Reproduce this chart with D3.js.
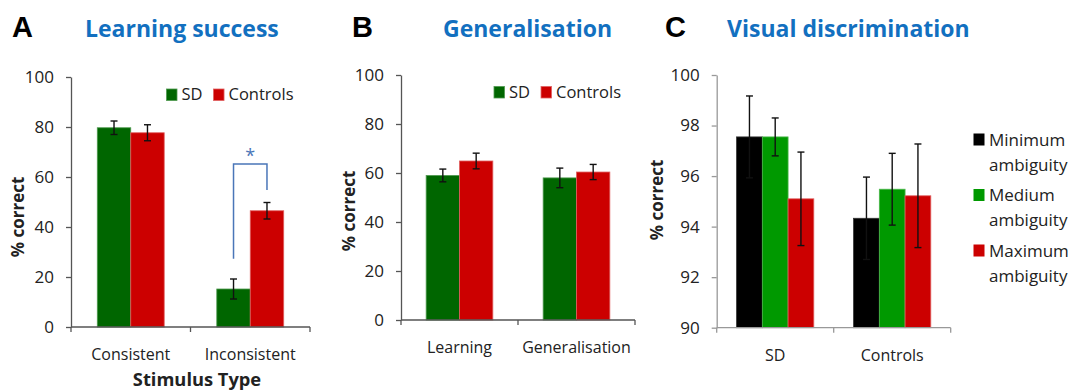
<!DOCTYPE html>
<html>
<head>
<meta charset="utf-8">
<script src="https://cdn.jsdelivr.net/npm/d3@7"></script>
<style>
	body { margin: 0; background: #fff; }
	svg { display: block; font-family: "Open Sans", Lato, sans-serif; }
	.tick text { fill: #222; }
</style>
</head>
<body>
<div id="chart"></div>
<script>
// panel A - learning success
var learnCats = ["Consistent", "Inconsistent"];
var learnSD = [79.7, 15.2];
var learnSDErr = [2.7, 4.0];
var learnCtrl = [77.7, 46.5];
var learnCtrlErr = [3.2, 3.3];

// panel B - generalisation
var genCats = ["Learning", "Generalisation"];
var genSD = [59.0, 58.0];
var genSDErr = [2.6, 4.0];
var genCtrl = [64.9, 60.4];
var genCtrlErr = [3.2, 3.1];

// panel C - visual discrimination
var visCats = ["SD", "Controls"];
var visMin = [97.55, 94.33];
var visMinErr = [1.62, 1.63];
var visMed = [97.55, 95.48];
var visMedErr = [0.75, 1.42];
var visMax = [95.1, 95.22];
var visMaxErr = [1.85, 2.05];

var ticks100 = [0, 20, 40, 60, 80, 100];
var ticks90 = [90, 92, 94, 96, 98, 100];

var svg = d3.select("#chart").append("svg")
	.attr("width", 1070)
	.attr("height", 390);

function panel(cfg) {

	var g = svg.append("g");

	var y = d3.scaleLinear()
		.domain(cfg.domain)
		.range([cfg.y0, cfg.y1]);

	var x0 = d3.scaleBand()
		.domain(cfg.cats)
		.range([cfg.x0, cfg.x1])
		.paddingInner(cfg.pad)
		.paddingOuter(cfg.pad / 2);

	var x1 = d3.scaleBand()
		.domain(cfg.series.map(function(s) { return s.name; }))
		.range([0, x0.bandwidth()]);

	// bars
	cfg.series.forEach(function(s) {
		var rows = cfg.cats.map(function(c, i) {
			return {cat: c, v: s.values[i], e: s.errs[i]};
		});
		g.selectAll(null)
			.data(rows)
			.enter()
			.append("rect")
				.attr("x", function(d) { return x0(d.cat) + x1(s.name); })
				.attr("y", function(d) { return y(d.v); })
				.attr("width", x1.bandwidth())
				.attr("height", function(d) { return cfg.y0 - y(d.v); })
				.attr("fill", s.color)
				.attr("stroke", s.edge)
				.attr("stroke-width", 0.8);

		var eb = g.selectAll(null)
			.data(rows)
			.enter()
			.append("g")
				.attr("stroke", "#111")
				.attr("stroke-width", 1.4);
		var cx = function(d) { return x0(d.cat) + x1(s.name) + x1.bandwidth() / 2; };
		eb.append("line")
			.attr("x1", cx).attr("x2", cx)
			.attr("y1", function(d) { return y(d.v + d.e); })
			.attr("y2", function(d) { return y(d.v - d.e); });
		eb.append("line")
			.attr("x1", function(d) { return cx(d) - 3.5; })
			.attr("x2", function(d) { return cx(d) + 3.5; })
			.attr("y1", function(d) { return y(d.v + d.e); })
			.attr("y2", function(d) { return y(d.v + d.e); });
		eb.append("line")
			.attr("x1", function(d) { return cx(d) - 3.5; })
			.attr("x2", function(d) { return cx(d) + 3.5; })
			.attr("y1", function(d) { return y(d.v - d.e); })
			.attr("y2", function(d) { return y(d.v - d.e); });
	});

	// y axis
	var yAxisG = g.append("g")
		.attr("transform", "translate(" + cfg.x0 + ",0)")
		.call(d3.axisLeft(y).tickValues(cfg.ticks).tickSize(5).tickSizeOuter(0).tickPadding(12));
	yAxisG.selectAll("path, line").attr("stroke", cfg.axisColor).attr("stroke-width", 1.3);
	yAxisG.selectAll("text").attr("font-size", 17).attr("font-family", "Open Sans");

	// x axis, Excel style ticks on category boundaries
	g.append("line")
		.attr("x1", cfg.x0).attr("x2", cfg.x1)
		.attr("y1", cfg.y0).attr("y2", cfg.y0)
		.attr("stroke", cfg.axisColor).attr("stroke-width", 1.3);
	var step = x0.step();
	g.selectAll(null)
		.data(d3.range(cfg.cats.length + 1))
		.enter()
		.append("line")
			.attr("x1", function(i) { return cfg.x0 + i * step; })
			.attr("x2", function(i) { return cfg.x0 + i * step; })
			.attr("y1", cfg.y0).attr("y2", cfg.y0 + 5)
			.attr("stroke", cfg.axisColor).attr("stroke-width", 1.3);
	g.selectAll(null)
		.data(cfg.cats)
		.enter()
		.append("text")
			.attr("x", function(d) { return x0(d) + x0.bandwidth() / 2; })
			.attr("y", cfg.y0 + 33)
			.attr("text-anchor", "middle")
			.attr("font-size", 16)
			.attr("fill", "#222")
			.text(function(d) { return d; });

	// y title
	g.append("text")
		.attr("transform", "translate(" + cfg.ytx + "," + cfg.yty + ") rotate(-90)")
		.attr("text-anchor", "middle")
		.attr("font-size", 17)
		.attr("font-weight", "bold")
		.attr("fill", "#222")
		.text("% correct");

	// panel letter and title
	g.append("text")
		.attr("x", cfg.letterX).attr("y", 37)
		.attr("font-family", "Liberation Sans, Arial, sans-serif")
		.attr("font-weight", "bold")
		.attr("font-size", 29)
		.attr("fill", "#000")
		.text(cfg.letter);
	g.append("text")
		.attr("x", cfg.titleX).attr("y", 37)
		.attr("font-weight", "bold")
		.attr("font-size", 23)
		.attr("fill", "#1270c0")
		.text(cfg.title);

	return {g: g, x0: x0, x1: x1, y: y};
}

function hLegend(g, series, x, y) {
	var pos = x;
	series.forEach(function(s) {
		g.append("rect")
			.attr("x", pos).attr("y", y - 11)
			.attr("width", 10.5).attr("height", 11.5)
			.attr("fill", s.color)
			.attr("stroke", s.edge).attr("stroke-width", 0.8);
		var t = g.append("text")
			.attr("x", pos + 15).attr("y", y)
			.attr("font-size", 16.5)
			.attr("fill", "#222")
			.text(s.name);
		pos += 15 + t.node().getComputedTextLength() + 11;
	});
}

var sdColor = "#006600", ctrlColor = "#cc0000";

var pA = panel({
	cats: learnCats, domain: [0, 100], ticks: ticks100,
	x0: 71, x1: 310, y0: 327, y1: 77, pad: 0.44,
	axisColor: "#555", ytx: 24, yty: 217,
	letter: "A", letterX: 12, title: "Learning success", titleX: 85,
	series: [
		{name: "SD", values: learnSD, errs: learnSDErr, color: sdColor, edge: "#4f9a4f"},
		{name: "Controls", values: learnCtrl, errs: learnCtrlErr, color: ctrlColor, edge: "#e06060"}
	]
});
hLegend(pA.g, [
	{name: "SD", color: sdColor, edge: "#4f9a4f"},
	{name: "Controls", color: ctrlColor, edge: "#e06060"}
], 166.5, 100);

// significance bracket
var sx1 = pA.x0("Inconsistent") + pA.x1("SD") + pA.x1.bandwidth() / 2;
var sx2 = pA.x0("Inconsistent") + pA.x1("Controls") + pA.x1.bandwidth() / 2;
var bracketTop = pA.y(65.2);
pA.g.append("path")
	.attr("d", "M" + sx1 + "," + pA.y(27.3) + "V" + bracketTop + "H" + sx2 + "V" + pA.y(54.8))
	.attr("fill", "none")
	.attr("stroke", "#4a76b8")
	.attr("stroke-width", 1.5);
pA.g.append("text")
	.attr("x", (sx1 + sx2) / 2).attr("y", bracketTop - 2)
	.attr("text-anchor", "middle")
	.attr("font-size", 18)
	.attr("fill", "#4a76b8")
	.text("*");

pA.g.append("text")
	.attr("x", 197).attr("y", 386)
	.attr("text-anchor", "middle")
	.attr("font-size", 18.3)
	.attr("font-weight", "bold")
	.attr("fill", "#222")
	.text("Stimulus Type");

var pB = panel({
	cats: genCats, domain: [0, 100], ticks: ticks100,
	x0: 401, x1: 635, y0: 320, y1: 75, pad: 0.43,
	axisColor: "#555", ytx: 355, yty: 211,
	letter: "B", letterX: 352, title: "Generalisation", titleX: 443,
	series: [
		{name: "SD", values: genSD, errs: genSDErr, color: sdColor, edge: "#4f9a4f"},
		{name: "Controls", values: genCtrl, errs: genCtrlErr, color: ctrlColor, edge: "#e06060"}
	]
});
hLegend(pB.g, [
	{name: "SD", color: sdColor, edge: "#4f9a4f"},
	{name: "Controls", color: ctrlColor, edge: "#e06060"}
], 494, 97.5);

var cSeries = [
	{name: "Minimum", values: visMin, errs: visMinErr, color: "#000000", edge: "#333"},
	{name: "Medium", values: visMed, errs: visMedErr, color: "#009900", edge: "#4cb84c"},
	{name: "Maximum", values: visMax, errs: visMaxErr, color: "#cc0000", edge: "#e06060"}
];
var pC = panel({
	cats: visCats, domain: [90, 100], ticks: ticks90,
	x0: 716.7, x1: 950.7, y0: 327.7, y1: 75, pad: 0.34,
	axisColor: "#999", ytx: 663, yty: 200,
	letter: "C", letterX: 665, title: "Visual discrimination", titleX: 727,
	series: cSeries
});

// vertical legend for C
cSeries.forEach(function(s, i) {
	var ly = 145.5 + i * 55.5;
	pC.g.append("rect")
		.attr("x", 973.5).attr("y", ly - 12)
		.attr("width", 11).attr("height", 12)
		.attr("fill", s.color);
	pC.g.append("text")
		.attr("x", 989).attr("y", ly)
		.attr("font-size", 17)
		.attr("fill", "#222")
		.text(s.name);
	pC.g.append("text")
		.attr("x", 989).attr("y", ly + 25)
		.attr("font-size", 17)
		.attr("fill", "#222")
		.text("ambiguity");
});
</script>
</body>
</html>
